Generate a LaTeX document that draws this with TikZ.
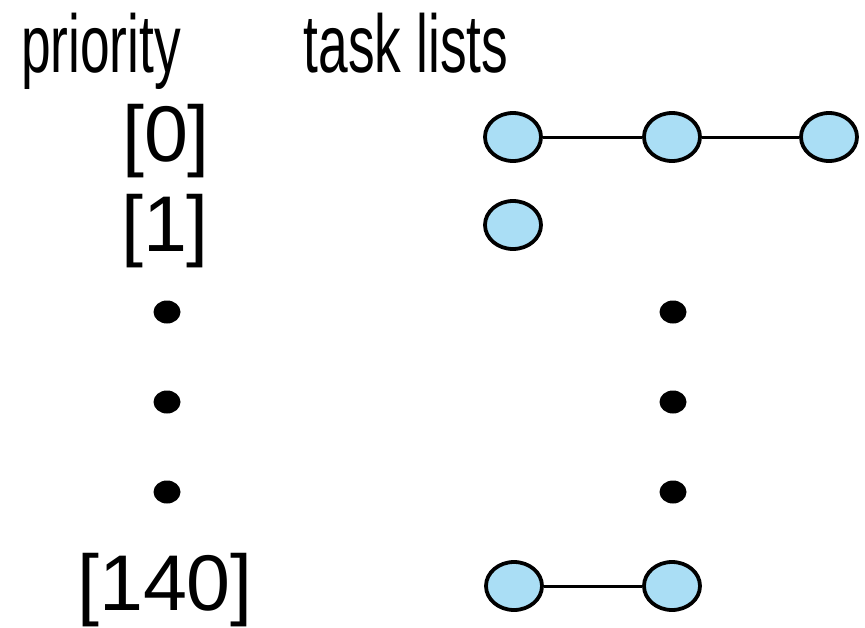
\documentclass[tikz,border=0pt]{standalone}
\usepackage{fontspec}
\setmainfont{Liberation Sans}
\usetikzlibrary{shapes.geometric}
\definecolor{cellblue}{RGB}{170,222,245}
\begin{document}
\begin{tikzpicture}[x=1pt,y=-1pt,
  lbl/.style={anchor=base,inner sep=0pt,font=\fontsize{82}{82}\selectfont},
  num/.style={anchor=base,inner sep=0pt,font=\fontsize{79}{79}\selectfont},
  task/.style={ellipse,draw=black,line width=3.8pt,fill=cellblue,minimum width=56pt,minimum height=48pt,inner sep=0pt},
  vdot/.style={ellipse,fill=black,minimum width=27pt,minimum height=23pt,inner sep=0pt},
  link/.style={line width=3pt}]
\useasboundingbox (0,0) rectangle (865,627);
\node[lbl] (hp) at (101,72) {\scalebox{0.65}[1]{priority}};
\node[lbl] (ht) at (406,72) {\scalebox{0.65}[1]{task lists}};
\node[num] (p0) at (166,161) {[0]};
\node[num] (p1) at (165,251) {[1]};
\node[num] (p140) at (165,610) {[140]};
\node[vdot] (ld1) at (167,312) {};
\node[vdot] (ld2) at (167,402) {};
\node[vdot] (ld3) at (167,492) {};
\node[vdot] (rd1) at (673,312) {};
\node[vdot] (rd2) at (673,402) {};
\node[vdot] (rd3) at (673,492) {};
\node[task] (a1) at (513,137) {};
\node[task] (a2) at (672,137) {};
\node[task] (a3) at (829,137) {};
\node[task] (b1) at (513,225) {};
\node[task] (c1) at (514,586) {};
\node[task] (c2) at (672,586) {};
\draw[link] (a1) -- (a2);
\draw[link] (a2) -- (a3);
\draw[link] (c1) -- (c2);
\end{tikzpicture}
\end{document}
